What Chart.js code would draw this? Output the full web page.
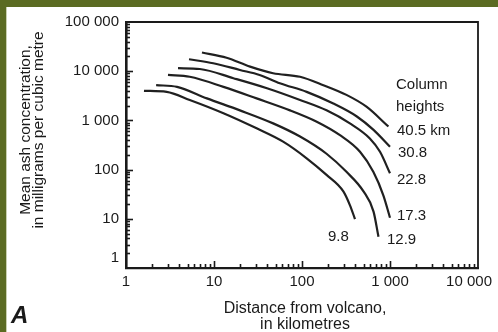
<!DOCTYPE html>
<html><head><meta charset="utf-8">
<script src="https://cdn.jsdelivr.net/npm/chart.js@4.4.1/dist/chart.umd.min.js"></script>
<style>html,body{margin:0;padding:0;background:#fff;overflow:hidden}canvas{display:block}</style>
</head><body>
<canvas id="c" width="498" height="332"></canvas>
<script>
// ---- data ----
const heightLabels = ['40.5 km', '30.8', '22.8', '17.3', '12.9', '9.8'];

const dist_40_5 = [7.3, 13.9, 25.7, 47, 95, 175, 320, 540, 960];
const conc_40_5 = [24000, 18800, 12400, 9100, 7700, 5200, 3300, 1900, 750];

const dist_30_8 = [5.2, 9.8, 19.7, 33, 56, 113, 227, 420, 650, 1000];
const conc_30_8 = [17500, 14500, 10600, 8400, 5700, 3800, 2200, 1200, 640, 290];

const dist_22_8 = [3.9, 6.9, 16.6, 40, 95, 190, 350, 590, 770, 1000];
const conc_22_8 = [11500, 11100, 7200, 4500, 2600, 1600, 870, 430, 230, 84];

const dist_17_3 = [3.0, 5.3, 12.8, 30.5, 73, 147, 270, 456, 646, 840, 1000];
const conc_17_3 = [8400, 7700, 4800, 2800, 1600, 940, 500, 230, 90, 30, 10.5];

const dist_12_9 = [2.2, 3.8, 8.3, 19.7, 47, 95, 190, 320, 500, 650, 740];
const conc_12_9 = [5200, 4800, 2800, 1600, 870, 470, 210, 90, 36, 14, 4.3];

const dist_9_8 = [1.6, 2.9, 5.3, 12.8, 30.5, 61, 113, 190, 295, 350, 400];
const conc_9_8 = [4000, 3800, 2600, 1400, 690, 370, 170, 78, 36, 19, 9.9];

const xTickValues = [1, 10, 100, 1000, 10000];
const xTickLabels = ['1', '10', '100', '1 000', '10 000'];
const yTickValues = [1, 10, 100, 1000, 10000, 100000];
const yTickLabels = ['1', '10', '100', '1 000', '10 000', '100 000'];

const xTitle = ['Distance from volcano,', 'in kilometres'];
const yTitle = ['Mean ash concentration,', 'in milligrams per cubic metre'];
const legendTitle = ['Column', 'heights'];
const panelLetter = 'A';

// ---- build ----
const series = [
  [dist_40_5, conc_40_5], [dist_30_8, conc_30_8], [dist_22_8, conc_22_8],
  [dist_17_3, conc_17_3], [dist_12_9, conc_12_9], [dist_9_8, conc_9_8]
];
const FONT = '"Liberation Sans", Arial, Helvetica, sans-serif';
const INK = '#1a1a1a';

const datasets = series.map((s, i) => ({
  label: heightLabels[i],
  data: s[0].map((d, j) => ({x: d, y: s[1][j]})),
  borderColor: '#202020',
  borderWidth: 2.2,
  pointRadius: 0,
  fill: false,
  cubicInterpolationMode: 'monotone'
}));

// label placement (pixels)
const labelPos = [[397,131],[398,153],[397,180],[397,216],[387,240],[328,237]];

const deco = {
  id: 'deco',
  beforeDraw(chart) {
    const ctx = chart.ctx;
    ctx.save(); ctx.fillStyle = '#fff'; ctx.fillRect(0, 0, chart.width, chart.height); ctx.restore();
  },
  afterDraw(chart) {
    const {ctx, chartArea: a, scales: {x, y}} = chart;
    ctx.save();
    ctx.strokeStyle = INK;
    // frame top & right
    ctx.lineWidth = 1.8;
    ctx.beginPath();
    ctx.moveTo(a.left, a.top); ctx.lineTo(a.right, a.top); ctx.lineTo(a.right, a.bottom);
    ctx.stroke();
    // inward log ticks
    ctx.lineWidth = 1.6;
    for (let e = 0; e < 4; e++) for (let k = 1; k <= 9; k++) {
      const v = k * Math.pow(10, e);
      if (k === 1 && e === 0) continue;
      const px = Math.round(x.getPixelForValue(v)) + 0.5;
      const len = k === 1 ? 7 : 4;
      ctx.beginPath(); ctx.moveTo(px, a.bottom); ctx.lineTo(px, a.bottom - len); ctx.stroke();
    }
    for (let e = 0; e < 5; e++) for (let k = 1; k <= 9; k++) {
      const v = k * Math.pow(10, e);
      if (k === 1 && e === 0) continue;
      const py = Math.round(y.getPixelForValue(v)) + 0.5;
      const len = k === 1 ? 7 : 4;
      ctx.beginPath(); ctx.moveTo(a.left, py); ctx.lineTo(a.left + len, py); ctx.stroke();
    }
    // tick labels
    ctx.fillStyle = INK;
    ctx.font = '15px ' + FONT;
    ctx.textBaseline = 'middle';
    ctx.textAlign = 'right';
    yTickValues.forEach((v, i) => {
      let py = y.getPixelForValue(v);
      if (v === y.min) py -= 10;
      ctx.fillText(yTickLabels[i], a.left - 7, py);
    });
    ctx.textAlign = 'center';
    xTickValues.forEach((v, i) => {
      const w = ctx.measureText(xTickLabels[i]).width;
      const px = Math.min(x.getPixelForValue(v), chart.width - w / 2 - 6);
      ctx.fillText(xTickLabels[i], px, a.bottom + 14);
    });
    // curve labels
    ctx.textAlign = 'left';
    ctx.fillText(legendTitle[0], 396, 85);
    ctx.fillText(legendTitle[1], 396, 107);
    heightLabels.forEach((t, i) => ctx.fillText(t, labelPos[i][0], labelPos[i][1]));
    // axis titles
    ctx.font = '16px ' + FONT;
    ctx.textAlign = 'center';
    ctx.fillText(xTitle[0], 305, 309);
    ctx.fillText(xTitle[1], 305, 325);
    ctx.font = '15.5px ' + FONT;
    [26, 39].forEach((cx, i) => {
      ctx.save(); ctx.translate(cx, 130); ctx.rotate(-Math.PI / 2);
      ctx.fillText(yTitle[i], 0, 0); ctx.restore();
    });
    // panel letter
    ctx.font = 'italic bold 24px ' + FONT;
    ctx.textAlign = 'left';
    ctx.fillText(panelLetter, 11, 316);
    // green frame
    ctx.fillStyle = '#5b6b22';
    ctx.fillRect(0, 0, chart.width, 7);
    ctx.fillRect(0, 0, 6, chart.height);
    ctx.fillStyle = '#c9d0b0';
    ctx.fillRect(6, 7, 1, chart.height - 7);
    ctx.restore();
  }
};

new Chart(document.getElementById('c'), {
  type: 'line',
  data: {datasets},
  options: {
    responsive: false,
    animation: false,
    devicePixelRatio: 1,
    events: [],
    parsing: true,
    layout: {padding: {left: 0, top: 22, right: 20, bottom: 0}},
    plugins: {legend: {display: false}, tooltip: {enabled: false}},
    scales: {
      x: {
        type: 'logarithmic', min: 1, max: 10000, position: 'bottom',
        grid: {display: false},
        border: {display: true, color: INK, width: 2.2},
        ticks: {display: false},
        afterFit(s) { s.height = 64; s.paddingLeft = 0; s.paddingRight = 0; }
      },
      y: {
        type: 'logarithmic', min: 1, max: 100000, position: 'left',
        grid: {display: false},
        border: {display: true, color: INK, width: 2.6},
        ticks: {display: false},
        afterFit(s) { s.width = 126; s.paddingTop = 0; s.paddingBottom = 0; }
      }
    }
  },
  plugins: [deco]
});
</script>
</body></html>
